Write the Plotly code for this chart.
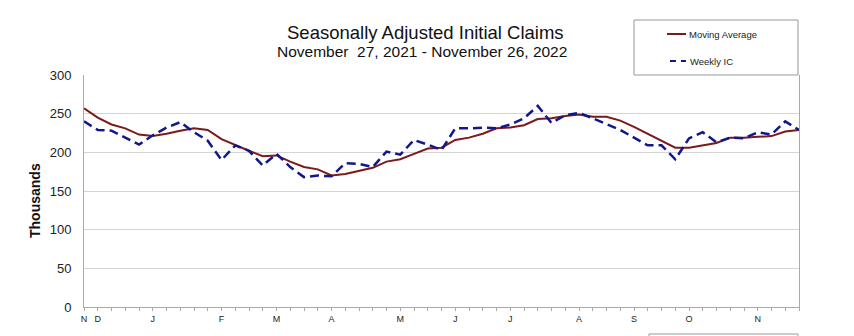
import plotly.graph_objects as go

# Week-ending dates, Nov 27 2021 .. Nov 26 2022 (53 weeks), as week index 0..52
weeks = list(range(53))

# 4-week moving average of initial claims (thousands)
moving_average = [
    257, 245, 236, 231, 223, 221, 224, 228, 231, 229,
    217, 209, 202, 195, 196, 188, 181, 178, 170, 172,
    176, 180, 188, 191, 198, 205, 206, 216, 219, 224,
    231, 232, 235, 243, 244, 247, 249, 246, 246, 241,
    233, 224, 216, 206, 206, 209, 212, 219, 219, 220,
    221, 227, 229,
]

# Weekly initial claims (thousands)
weekly_ic = [
    240, 229, 228, 219, 210, 222, 232, 239, 226, 215,
    190, 209, 202, 183, 198, 181, 168, 170, 169, 186,
    185, 181, 201, 197, 216, 210, 203, 231, 231, 232,
    231, 236, 244, 260, 238, 248, 251, 244, 236, 229,
    219, 209, 209, 191, 218, 226, 213, 219, 218, 226,
    223, 240, 229,
]

# Month initials placed at the first week-ending of each month
month_ticks = [0, 1, 5, 10, 14, 18, 23, 27, 31, 36, 40, 44, 49]
month_labels = ["N", "D", "J", "F", "M", "A", "M", "J", "J", "A", "S", "O", "N"]

MA_COLOR = "#7a1a1a"
IC_COLOR = "#10188c"

# plot-area geometry in pixels, used to place the title and legend box
L, R, T, B = 84, 799, 75, 307


def px(x):
    return (x - L) / (R - L)


def py(y):
    return (B - y) / (B - T)


fig = go.Figure()
fig.add_trace(go.Scatter(
    x=weeks, y=moving_average, mode="lines", name="Moving Average",
    line=dict(color=MA_COLOR, width=2),
))
fig.add_trace(go.Scatter(
    x=weeks, y=weekly_ic, mode="lines", name="Weekly IC",
    line=dict(color=IC_COLOR, width=2.5, dash="9px,5px"),
))

fig.update_layout(
    width=854, height=336,
    margin=dict(l=L, r=854 - R, t=T, b=336 - B),
    paper_bgcolor="white", plot_bgcolor="white",
    font=dict(family="Liberation Sans, Arial, sans-serif", color="#222"),
    showlegend=False,
)

# legend box with its two keys
fig.add_shape(type="rect", xref="paper", yref="paper",
              x0=px(634), x1=px(798), y0=py(75), y1=py(20),
              line=dict(color="#999", width=1))
fig.add_shape(type="line", xref="paper", yref="paper",
              x0=px(667), x1=px(686), y0=py(34), y1=py(34),
              line=dict(color=MA_COLOR, width=2))
fig.add_shape(type="line", xref="paper", yref="paper",
              x0=px(670), x1=px(686), y0=py(61), y1=py(61),
              line=dict(color=IC_COLOR, width=2, dash="6px,5px"))
fig.add_annotation(text="Moving Average", xref="paper", yref="paper",
                   x=px(687), y=py(34), xanchor="left", yanchor="middle",
                   showarrow=False, font=dict(size=9.5, color="#222"))
fig.add_annotation(text="Weekly IC", xref="paper", yref="paper",
                   x=px(688), y=py(61), xanchor="left", yanchor="middle",
                   showarrow=False, font=dict(size=9.5, color="#222"))

# partially visible box below the chart
fig.add_shape(type="rect", xref="paper", yref="paper",
              x0=px(649), x1=px(798), y0=py(345), y1=py(334),
              line=dict(color="#999", width=1))

fig.add_annotation(
    text="Seasonally Adjusted Initial Claims", xref="paper", yref="paper",
    x=px(425), y=py(33), xanchor="center", yanchor="middle",
    showarrow=False, font=dict(size=18.5, color="#111"), borderpad=0,
)
fig.add_annotation(
    text="November  27, 2021 - November 26, 2022", xref="paper", yref="paper",
    x=px(422), y=py(51.5), xanchor="center", yanchor="middle",
    showarrow=False, font=dict(size=15.5, color="#111"), borderpad=0,
)
fig.add_annotation(
    text="<b>Thousands</b>", xref="paper", yref="paper",
    x=px(35), y=py(201), xanchor="center", yanchor="middle", textangle=-90,
    showarrow=False, font=dict(size=14, color="#111"),
)

fig.update_xaxes(
    range=[0, 52], tickmode="array", tickvals=month_ticks, ticktext=month_labels,
    showgrid=False, zeroline=False, showline=True, linecolor="#aaa", linewidth=1,
    ticks="outside", ticklen=3, tickcolor="#aaa",
    minor=dict(ticks="outside", dtick=1, tick0=0, ticklen=3, tickcolor="#aaa"),
    tickfont=dict(size=9, color="#222"),
)
fig.update_yaxes(
    range=[0, 300], dtick=50, showgrid=True, gridcolor="#d4d4d4", gridwidth=1,
    zeroline=False, showline=True, linecolor="#aaa", linewidth=1, mirror=True,
    ticks="", ticklabelstandoff=9, tickfont=dict(size=13, color="#222"),
)

fig.write_html("out.html")
